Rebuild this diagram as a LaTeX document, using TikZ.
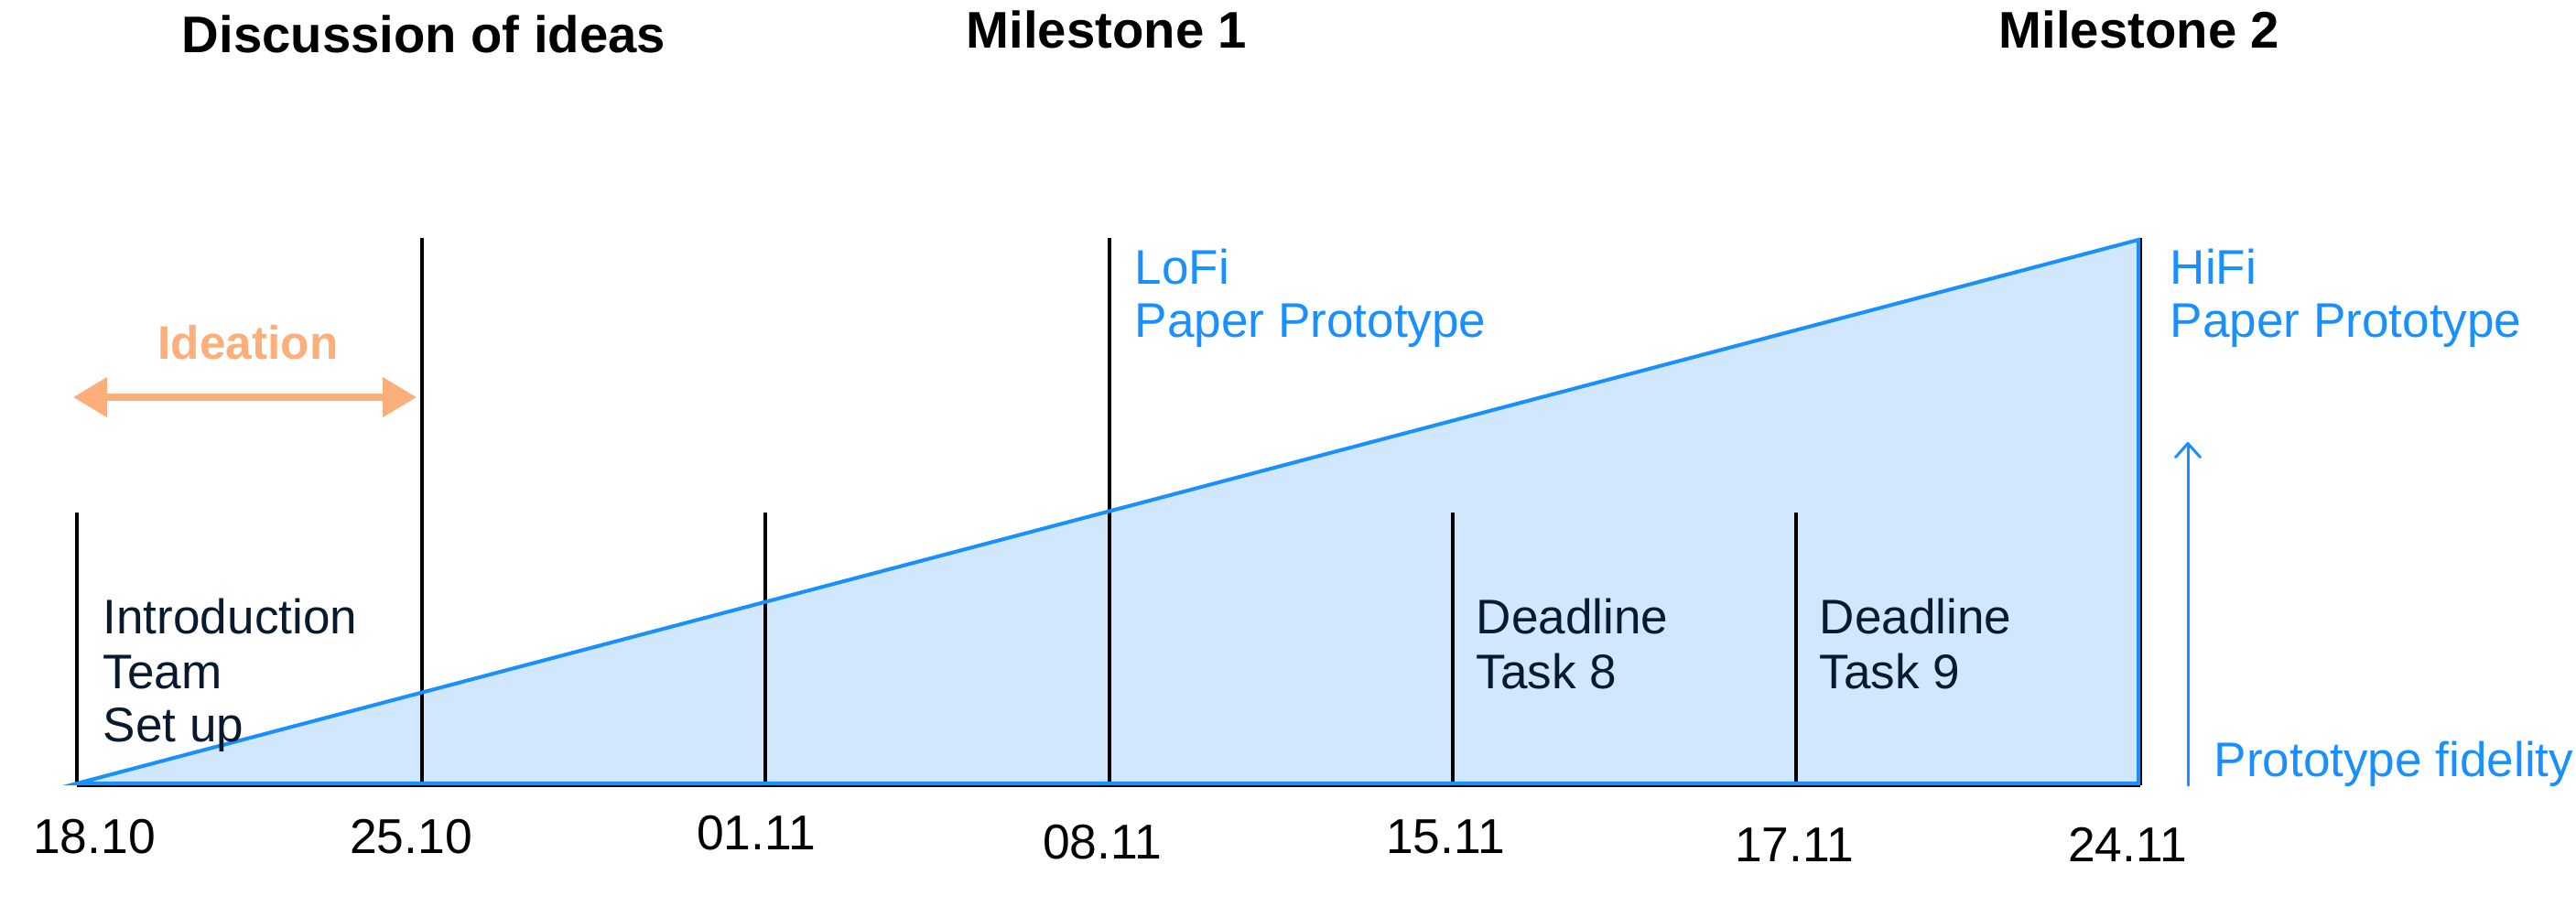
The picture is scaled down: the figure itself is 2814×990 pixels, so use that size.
\documentclass[tikz,border=0pt]{standalone}
\usepackage{fontspec}
\setmainfont{Liberation Sans}
\usetikzlibrary{arrows.meta}
\definecolor{fblue}{HTML}{1A8FFF}
\definecolor{ffill}{HTML}{D1E7FD}
\definecolor{dtext}{HTML}{0A1A2E}
\definecolor{iorange}{HTML}{FCAE7B}
\tikzset{
  lbl/.style={inner sep=0pt, anchor=base west, text=dtext, font=\fontsize{15.1}{18}\selectfont},
  bluelbl/.style={inner sep=0pt, anchor=base west, text=fblue, font=\fontsize{15.1}{18}\selectfont},
  datelbl/.style={inner sep=0pt, anchor=base, text=black, font=\fontsize{15.2}{18}\selectfont},
  titlelbl/.style={inner sep=0pt, anchor=base, text=black, font=\fontsize{16}{19}\selectfont\bfseries},
  tick/.style={draw=black, line width=0.9pt},
}
\begin{document}
\begin{tikzpicture}[x=0.01cm,y=-0.01cm]
\useasboundingbox (0,0) rectangle (2814,990);
% coordinates
\coordinate (o) at (84,856);
\coordinate (peak) at (2336,262);
\coordinate (corner) at (2336,856);
% triangle
\fill[ffill] (o) -- (peak) -- (corner) -- cycle;
% ticks
\coordinate (t1) at (84,560);   \coordinate (b1) at (84,858);
\coordinate (t2) at (461,260);  \coordinate (b2) at (461,858);
\coordinate (t3) at (836,560);  \coordinate (b3) at (836,858);
\coordinate (t4) at (1212,260); \coordinate (b4) at (1212,858);
\coordinate (t5) at (1587,560); \coordinate (b5) at (1587,858);
\coordinate (t6) at (1962,560); \coordinate (b6) at (1962,858);
\coordinate (t7) at (2338,260); \coordinate (b7) at (2338,858);
\foreach \i in {1,...,7} {\draw[tick] (t\i) -- (b\i);}
\draw[line width=0.9pt] (b1) -- (b7);
\draw[fblue, line width=1.15pt, line join=miter] (o) -- (peak) -- (corner) -- cycle;
% titles
\node[titlelbl] (disc) at (463,57) {Discussion of ideas};
\node[titlelbl] (ms1) at (1209,52) {Milestone 1};
\node[titlelbl] (ms2) at (2337,52) {Milestone 2};
% ideation
\coordinate (ideaL) at (80,434);
\coordinate (ideaR) at (455,434);
\draw[iorange, line width=2pt, {Triangle[length=10.5pt,width=12pt]}-{Triangle[length=10.5pt,width=12pt]}] (ideaL) -- (ideaR);
\node[inner sep=0pt, anchor=base, text=iorange, font=\fontsize{14.6}{18}\selectfont\bfseries] (idea) at (271,392) {Ideation};
% labels
\node[lbl] (intro1) at (112,692) {Introduction};
\node[lbl] (intro2) at (112,752) {Team};
\node[lbl] (intro3) at (112,810) {Set up};
\node[lbl] (d8a) at (1612,692) {Deadline};
\node[lbl] (d8b) at (1612,752) {Task 8};
\node[lbl] (d9a) at (1987,692) {Deadline};
\node[lbl] (d9b) at (1987,752) {Task 9};
\node[bluelbl] (lofi1) at (1239,310) {LoFi};
\node[bluelbl] (lofi2) at (1239,368) {Paper Prototype};
\node[bluelbl] (hifi1) at (2370,310) {HiFi};
\node[bluelbl] (hifi2) at (2370,368) {Paper Prototype};
% fidelity arrow
\coordinate (fidB) at (2390,858);
\coordinate (fidT) at (2390,483);
\draw[fblue, line width=0.85pt, line cap=round, -{Straight Barb[length=4.3pt,width=7.7pt,round]}] (fidB) -- (fidT);
\node[bluelbl] (fid) at (2418,848) {Prototype fidelity};
% dates
\node[datelbl] (d1) at (103,932) {18.10};
\node[datelbl] (d2) at (449,932) {25.10};
\node[datelbl] (d3) at (826,928) {01.11};
\node[datelbl] (d4) at (1204,938) {08.11};
\node[datelbl] (d5) at (1579,932) {15.11};
\node[datelbl] (d6) at (1960,941) {17.11};
\node[datelbl] (d7) at (2324,941) {24.11};
\end{tikzpicture}
\end{document}
